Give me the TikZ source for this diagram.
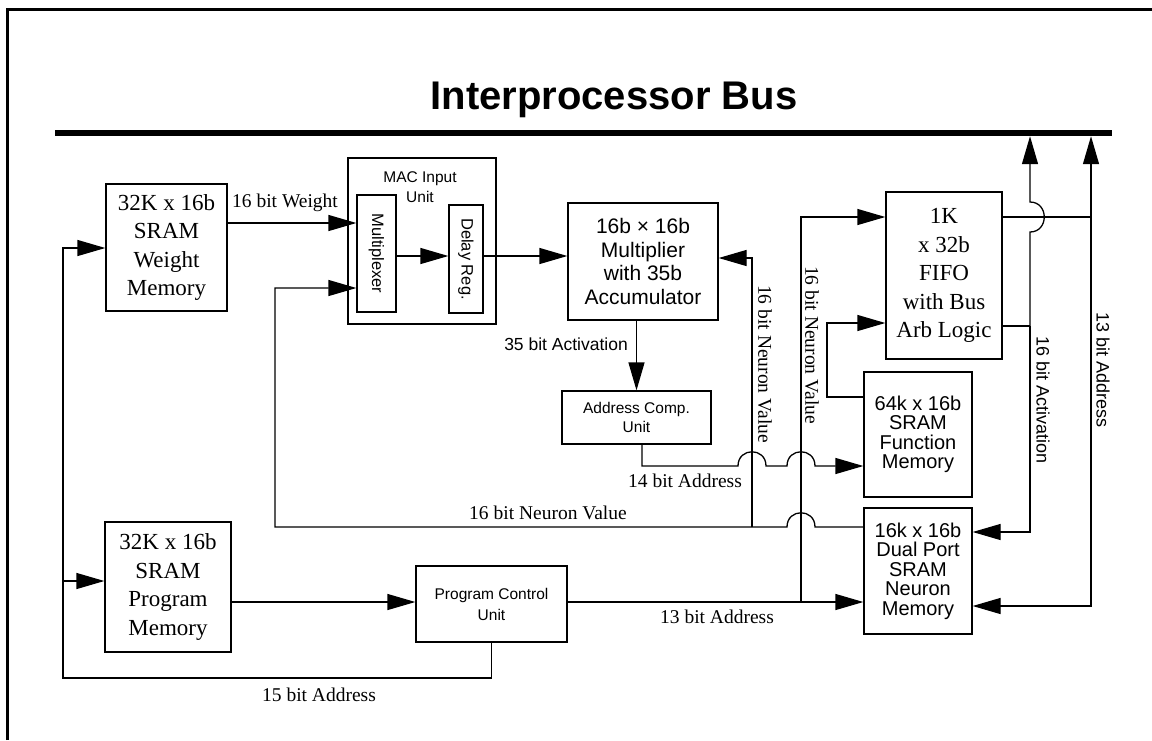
\documentclass[tikz,border=0pt]{standalone}
\usepackage{fontspec}
\setmainfont{Liberation Serif}
\setsansfont{Liberation Sans}
\usetikzlibrary{arrows.meta}
\begin{document}
\begin{tikzpicture}[x=1pt,y=-1pt,
  blk/.style={draw, line width=1.3pt, inner sep=0pt, align=center},
  conn/.style={line width=1.3pt},
  arr/.style={conn, -{Triangle[length=28pt,width=16pt]}},
  sertxt/.style={font=\fontsize{23}{28.5}\selectfont},
  lbl/.style={font=\fontsize{19.5}{22}\selectfont, inner sep=0pt},
  slbl/.style={font=\sffamily\fontsize{17.5}{20}\selectfont, inner sep=0pt},
  vlbl/.style={font=\sffamily\fontsize{18}{20}\selectfont, inner sep=0pt, rotate=-90}
]
\useasboundingbox (0,0) rectangle (1152,740);
% frame
\draw[line width=3pt] (7,740) -- (7,9) -- (1152,9);
% title and bus
\node[font=\sffamily\bfseries\fontsize{40}{44}\selectfont] (title) at (614,100) {Interprocessor Bus};
\node[fill=black, minimum width=1057pt, minimum height=6pt, inner sep=0pt] (bus) at (583.5,133) {};

% blocks
\node[blk, sertxt, minimum width=121pt, minimum height=127pt] (wm) at (166.5,247.5) {32K x 16b\\SRAM\\Weight\\Memory};
\node[blk, sertxt, minimum width=126pt, minimum height=130pt] (pm) at (168,587) {32K x 16b\\SRAM\\Program\\Memory};
\node[blk, minimum width=148pt, minimum height=166pt] (mac) at (422,241) {};
\node[font=\sffamily\fontsize{15.5}{20}\selectfont, align=center, inner sep=0pt] (maclbl) at (420,187) {MAC Input\\Unit};
\node[blk, minimum width=39pt, minimum height=117pt] (mux) at (376.5,253.5) {};
\node[font=\sffamily\fontsize{16.5}{18}\selectfont, rotate=-90, inner sep=0pt] (muxt) at (mux.center) {Multiplexer};
\node[blk, minimum width=34pt, minimum height=108pt] (dly) at (466,259) {};
\node[font=\sffamily\fontsize{16.5}{18}\selectfont, rotate=-90, inner sep=0pt] (dlyt) at (dly.center) {Delay Reg.};
\node[blk, font=\sffamily\fontsize{21}{23.5}\selectfont, minimum width=150pt, minimum height=117pt] (mult) at (643,261.5) {16b × 16b\\Multiplier\\with 35b\\Accumulator};
\node[blk, font=\sffamily\fontsize{15.5}{19}\selectfont, minimum width=149pt, minimum height=53pt] (acu) at (636.5,417.5) {Address Comp.\\Unit};
\node[blk, font=\sffamily\fontsize{15.5}{21}\selectfont, minimum width=151pt, minimum height=76pt] (pcu) at (491.5,604) {Program Control\\Unit};
\node[blk, sertxt, minimum width=116pt, minimum height=167pt] (fifo) at (944,275.5) {1K\\x 32b\\FIFO\\with Bus\\Arb Logic};
\node[blk, font=\sffamily\fontsize{20}{19.5}\selectfont, minimum width=108pt, minimum height=125pt] (fm) at (918,434.5) {64k x 16b\\SRAM\\Function\\Memory};
\node[blk, font=\sffamily\fontsize{20}{19.5}\selectfont, minimum width=108pt, minimum height=126pt] (nm) at (918,571) {16k x 16b\\Dual Port\\SRAM\\Neuron\\Memory};

% 15 bit address
\draw[arr] (pcu.south) |- (63,678) -- (63,248) -- (wm.west |- 0,248);
\coordinate (j15) at (63,581);
\draw[arr] (j15) -- (pm.west |- j15);
% weight
\draw[arr] (wm.east |- 0,223) -- (mux.west |- 0,223);
% mux -> delay -> multiplier
\draw[arr] (mux.east |- 0,256) -- (dly.west |- 0,256);
\draw[arr] (dly.east |- 0,256) -- (mult.west |- 0,256);
% neuron value feedback
\draw[arr] (nm.west |- 0,527) -- (815,527) .. controls (815,508) and (787,508) .. (787,527) -- (275,527) -- (275,288) -- (mux.west |- 0,288);
\coordinate (v1) at (752,527);
\draw[arr] (v1) -- (752,258) -- (mult.east |- 0,258);
\coordinate (v2) at (801,602);
\draw[arr] (v2) -- (801,217) -- (fifo.west |- 0,217);
% multiplier -> address comp
\draw[arr] (acu.north |- mult.south) -- (acu.north);
% 14 bit address
\draw[arr] (acu.south -| 642,0) -- (642,466) -- (738,466) .. controls (738,447) and (766,447) .. (766,466) -- (787,466) .. controls (787,447) and (815,447) .. (815,466) -- (fm.west |- 0,466);
% function memory -> fifo
\draw[arr] (fm.west |- 0,397) -- (827,397) -- (827,323) -- (fifo.west |- 0,323);
% program memory -> pcu -> neuron memory
\draw[arr] (pm.east |- 0,602) -- (pcu.west |- 0,602);
\draw[arr] (pcu.east |- 0,602) -- (nm.west |- 0,602);
% fifo top output
\draw[arr] (fifo.east |- 0,217) -- (1091,217) -- (bus.south -| 1091,0);
\draw[arr] (1091,217) -- (1091,606) -- (nm.east |- 0,606);
% fifo lower output
\draw[conn] (fifo.east |- 0,326) -- (1030,326);
\draw[arr] (1030,326) -- (1030,232) .. controls (1049,232) and (1049,202) .. (1030,202) -- (bus.south -| 1030,0);
\draw[arr] (1030,326) -- (1030,532) -- (nm.east |- 0,532);

% labels
\node[lbl] (lw) at (285,203) {16 bit Weight};
\node[slbl, anchor=east] (l35) at (628,344) {35 bit Activation};
\node[lbl] (l14) at (685,481) {14 bit Address};
\node[lbl] (lnv) at (548,513) {16 bit Neuron Value};
\node[lbl] (l13) at (717,617) {13 bit Address};
\node[lbl] (l15) at (319,695) {15 bit Address};
\node[lbl, rotate=-90] (lv1) at (765,364) {16 bit Neuron Value};
\node[lbl, rotate=-90] (lv2) at (812,345) {16 bit Neuron Value};
\node[vlbl] (lact) at (1043,400) {16 bit Activation};
\node[vlbl] (la13) at (1103,370) {13 bit Address};
\end{tikzpicture}
\end{document}
